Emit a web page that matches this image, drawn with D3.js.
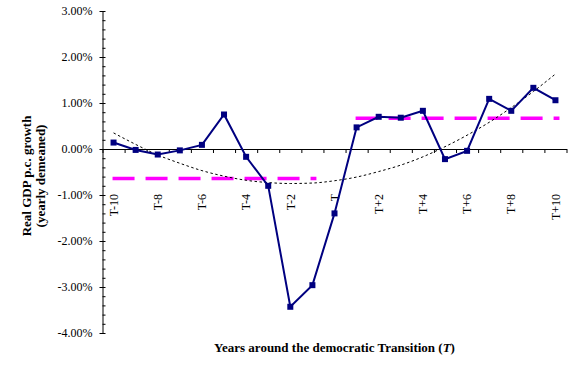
<!DOCTYPE html>
<html>
<head>
<meta charset="utf-8">
<script src="https://cdn.jsdelivr.net/npm/d3@7"></script>
<style>
  body { margin: 0; background: #fff; }
  text { font-family: "Liberation Serif", "Times New Roman", serif; }
</style>
</head>
<body>
<div class="chart"></div>
<script>
var svgWidth = 582;
var svgHeight = 365;

// categories T-10 ... T+10
var years = ["T-10", "T-9", "T-8", "T-7", "T-6", "T-5", "T-4", "T-3", "T-2", "T-1", "T",
    "T+1", "T+2", "T+3", "T+4", "T+5", "T+6", "T+7", "T+8", "T+9", "T+10"];
var shownLabels = ["T-10", "T-8", "T-6", "T-4", "T-2", "T", "T+2", "T+4", "T+6", "T+8", "T+10"];

// real GDP p.c. growth, yearly demeaned (%)
var growth = [0.14, -0.02, -0.12, -0.03, 0.09, 0.75, -0.17, -0.80, -3.43, -2.96, -1.40,
    0.47, 0.70, 0.68, 0.83, -0.22, -0.04, 1.09, 0.83, 1.33, 1.06];

// polynomial trend (%)
var trend = [0.35, 0.10, -0.13, -0.31, -0.47, -0.59, -0.68, -0.73, -0.75, -0.74, -0.69,
    -0.61, -0.49, -0.35, -0.17, 0.05, 0.30, 0.58, 0.90, 1.25, 1.63];

// average before / after the transition (%)
var preYears = ["T-10", "T-1"];
var preMean = -0.64;
var postYears = ["T+1", "T+10"];
var postMean = 0.67;

var yMajor = [-4, -3, -2, -1, 0, 1, 2, 3];
var yMinor = d3.range(-40, 31, 2).map(d => d / 10).filter(d => !yMajor.includes(d));

var svg = d3.select(".chart")
    .append("svg")
    .attr("width", svgWidth)
    .attr("height", svgHeight);

var x = d3.scaleBand()
    .domain(years)
    .range([102.5, 566.5]);

var y = d3.scaleLinear()
    .domain([-4, 3])
    .range([333, 11]);

var cx = d => x(d) + x.bandwidth() / 2;

// y axis
var yAxis = svg.append("g")
    .attr("transform", "translate(102.5,0)")
    .call(d3.axisLeft(y)
        .tickValues(yMajor)
        .tickSizeInner(3)
        .tickSizeOuter(0)
        .tickPadding(7)
        .tickFormat(d => d.toFixed(2) + "%"));
yAxis.selectAll(".tick line").attr("x1", 3);
yAxis.selectAll("text").attr("font-size", 12).attr("fill", "#000")
    .style("font-family", "'Liberation Serif', serif");

svg.append("g")
    .attr("transform", "translate(102.5,0)")
    .call(d3.axisRight(y).tickValues(yMinor).tickSize(3).tickFormat(""))
    .select(".domain").remove();

// x axis on the zero line, ticks between categories
var bounds = d3.scaleLinear().domain([0, years.length]).range(x.range());
svg.append("g")
    .attr("transform", `translate(0,${y(0)})`)
    .call(d3.axisBottom(bounds).tickValues(d3.range(years.length + 1)).tickSizeInner(4).tickSizeOuter(0).tickFormat(""));

var xLabels = svg.append("g")
    .attr("transform", `translate(0,${y(0)})`)
    .call(d3.axisBottom(x).tickValues(shownLabels).tickSize(0));
xLabels.select(".domain").remove();
xLabels.selectAll("text")
    .attr("transform", "rotate(-90)")
    .attr("x", -45)
    .attr("y", 0)
    .attr("dy", "0.35em")
    .attr("text-anchor", "end")
    .attr("font-size", 12)
    .attr("fill", "#000")
    .style("font-family", "'Liberation Serif', serif");

// mean lines
[[preYears, preMean], [postYears, postMean]].forEach(function (m) {
    svg.append("line")
        .attr("x1", cx(m[0][0]) - 1)
        .attr("x2", cx(m[0][1]) + 4)
        .attr("y1", y(m[1]))
        .attr("y2", y(m[1]))
        .attr("stroke", "#ff00ff")
        .attr("stroke-width", 3.5)
        .attr("stroke-dasharray", "22,11");
});

// trend line
svg.append("path")
    .datum(trend)
    .attr("fill", "none")
    .attr("stroke", "#000")
    .attr("stroke-width", 1)
    .attr("stroke-dasharray", "2.5,2.5")
    .attr("d", d3.line()
        .x((d, i) => cx(years[i]))
        .y(d => y(d))
        .curve(d3.curveMonotoneX));

// growth series
svg.append("path")
    .datum(growth)
    .attr("fill", "none")
    .attr("stroke", "#000080")
    .attr("stroke-width", 2)
    .attr("d", d3.line()
        .x((d, i) => cx(years[i]))
        .y(d => y(d)));

svg.selectAll(".marker")
    .data(growth)
    .enter()
    .append("rect")
    .attr("class", "marker")
    .attr("x", (d, i) => cx(years[i]) - 3)
    .attr("y", d => y(d) - 3)
    .attr("width", 6)
    .attr("height", 6)
    .attr("fill", "#000080");

// axis titles
var yTitle = svg.append("text")
    .attr("transform", "rotate(-90)")
    .attr("text-anchor", "middle")
    .attr("font-size", 13)
    .attr("font-weight", "bold");
yTitle.append("tspan").attr("x", -176).attr("y", 31).text("Real GDP p.c. growth");
yTitle.append("tspan").attr("x", -176).attr("y", 45).text("(yearly demeaned)");

var xTitle = svg.append("text")
    .attr("x", 334.5)
    .attr("y", 352)
    .attr("text-anchor", "middle")
    .attr("font-size", 13)
    .attr("font-weight", "bold");
xTitle.append("tspan").text("Years around the democratic Transition (");
xTitle.append("tspan").attr("font-style", "italic").text("T");
xTitle.append("tspan").text(")");
</script>
</body>
</html>
